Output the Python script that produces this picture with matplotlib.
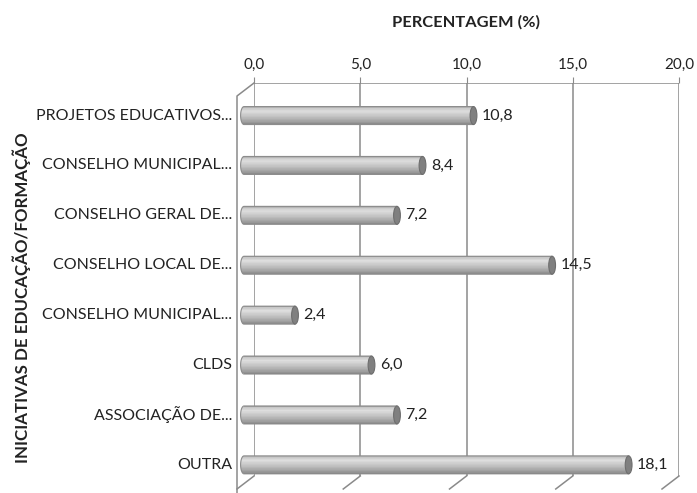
import matplotlib
matplotlib.use("Agg")
import matplotlib.pyplot as plt
import matplotlib.transforms as mtransforms
from matplotlib.patches import Polygon, Ellipse
import numpy as np

# dados
categorias = ["PROJETOS EDUCATIVOS...", "CONSELHO MUNICIPAL...", "CONSELHO GERAL DE...",
              "CONSELHO LOCAL DE...", "CONSELHO MUNICIPAL...", "CLDS",
              "ASSOCIAÇÃO DE...", "OUTRA"]
valores = [10.8, 8.4, 7.2, 14.5, 2.4, 6.0, 7.2, 18.1]
ticks = [0, 5, 10, 15, 20]
tick_labels = ["0,0", "5,0", "10,0", "15,0", "20,0"]

plt.rcParams['font.family'] = ['Lato', 'DejaVu Sans']

W, H = 697, 493
fig = plt.figure(figsize=(W / 100, H / 100), dpi=100)
# parede de fundo: x 254..679, y 83..476 (pixeis)
ax = fig.add_axes([254 / W, 1 - 476 / H, (679 - 254) / W, (476 - 83) / H])
ax.set_xlim(0, 20)
ax.set_ylim(-0.5 + 393 / 49.9, -0.5)
for s in ax.spines.values():
    s.set_visible(False)

grid_c = "#8a8a8a"
for t in ticks:
    ax.plot([t, t], [ax.get_ylim()[0], -0.5], color=grid_c, lw=1.1, zorder=1)
ax.plot([0, 20], [-0.5, -0.5], color=grid_c, lw=1.1, zorder=1)

ax.xaxis.tick_top()
ax.set_xticks(ticks)
ax.set_xticklabels(tick_labels, fontsize=11, color="#222222")
ax.tick_params(axis="x", length=4, color=grid_c, pad=4)
ax.set_yticks([])

# profundidade: barras ficam a meio caminho entre a parede e a frente
front = mtransforms.offset_copy(ax.transData, fig=fig, x=-10, y=-7.6, units="dots")

ybot = ax.get_ylim()[0]
for t in ticks:
    x0, y0 = ax.transData.transform((t, ybot))
    ax.add_line(plt.Line2D([x0, x0 - 17], [y0, y0 - 13], transform=None,
                           color=grid_c, lw=1.1, clip_on=False))
# parede esquerda
xt, yt = ax.transData.transform((0, -0.5))
ax.add_line(plt.Line2D([xt, xt - 17, xt - 17], [yt, yt - 13, -5], transform=None,
                       color=grid_c, lw=1.1, clip_on=False))

# barras cilindricas
h = 0.36
a = 0.16
def cor(t):
    pts = [(0.0, 0.60), (0.08, 0.78), (0.25, 0.87), (0.55, 0.76), (0.85, 0.62), (1.0, 0.52)]
    ts = [p[0] for p in pts]
    vs = [p[1] for p in pts]
    v = np.interp(t, ts, vs)
    return (v, v, v)

n = 30
for i, v in enumerate(valores):
    for k in range(n):
        t0, t1 = k / n, (k + 1) / n
        ya = i - h / 2 + t0 * h
        yb = i - h / 2 + t1 * h
        ua = (ya - i) / (h / 2)
        ub = (yb - i) / (h / 2)
        xa = -a * np.sqrt(max(0, 1 - ua ** 2))
        xb = -a * np.sqrt(max(0, 1 - ub ** 2))
        poly = Polygon([(xa, ya), (v, ya), (v, yb), (xb, yb)], closed=True,
                       facecolor=cor((t0 + t1) / 2), edgecolor="none",
                       transform=front, zorder=3, clip_on=False)
        ax.add_patch(poly)
    # contorno
    ang = np.linspace(-np.pi / 2, np.pi / 2, 30)
    lx = -a * np.cos(ang)
    ly = i + (h / 2) * np.sin(ang)
    ox = np.concatenate([lx, [v, v]])
    oy = np.concatenate([ly, [i + h / 2, i - h / 2]])
    ax.add_patch(Polygon(np.column_stack([ox, oy]), closed=True, facecolor="none",
                         edgecolor="#8c8c8c", lw=0.8, transform=front, zorder=4, clip_on=False))
    ax.add_patch(Ellipse((v, i), 2 * a, h, facecolor="#808080", edgecolor="#6e6e6e",
                         lw=0.8, transform=front, zorder=5, clip_on=False))
    lbl = f"{v:.1f}".replace(".", ",")
    ax.text(v + a, i, lbl, transform=mtransforms.offset_copy(front, fig=fig, x=5, y=0, units="dots"),
            ha="left", va="center", fontsize=11.5, color="#222222", zorder=6)
    # rotulos das categorias
    ax.text(0, i, categorias[i], transform=mtransforms.offset_copy(front, fig=fig, x=-12, y=0, units="dots"),
            ha="right", va="center", fontsize=11.5, color="#222222")

fig.text(466 / W, 1 - 22 / H, "PERCENTAGEM (%)", ha="center", va="center",
         fontsize=11.8, fontweight="bold", color="#222222")
fig.text(22 / W, 1 - 298 / H, "INICIATIVAS DE EDUCAÇÃO/FORMAÇÃO", ha="center", va="center",
         rotation=90, fontsize=12.2, fontweight="bold", color="#222222")

fig.savefig("out.png", dpi=100)
